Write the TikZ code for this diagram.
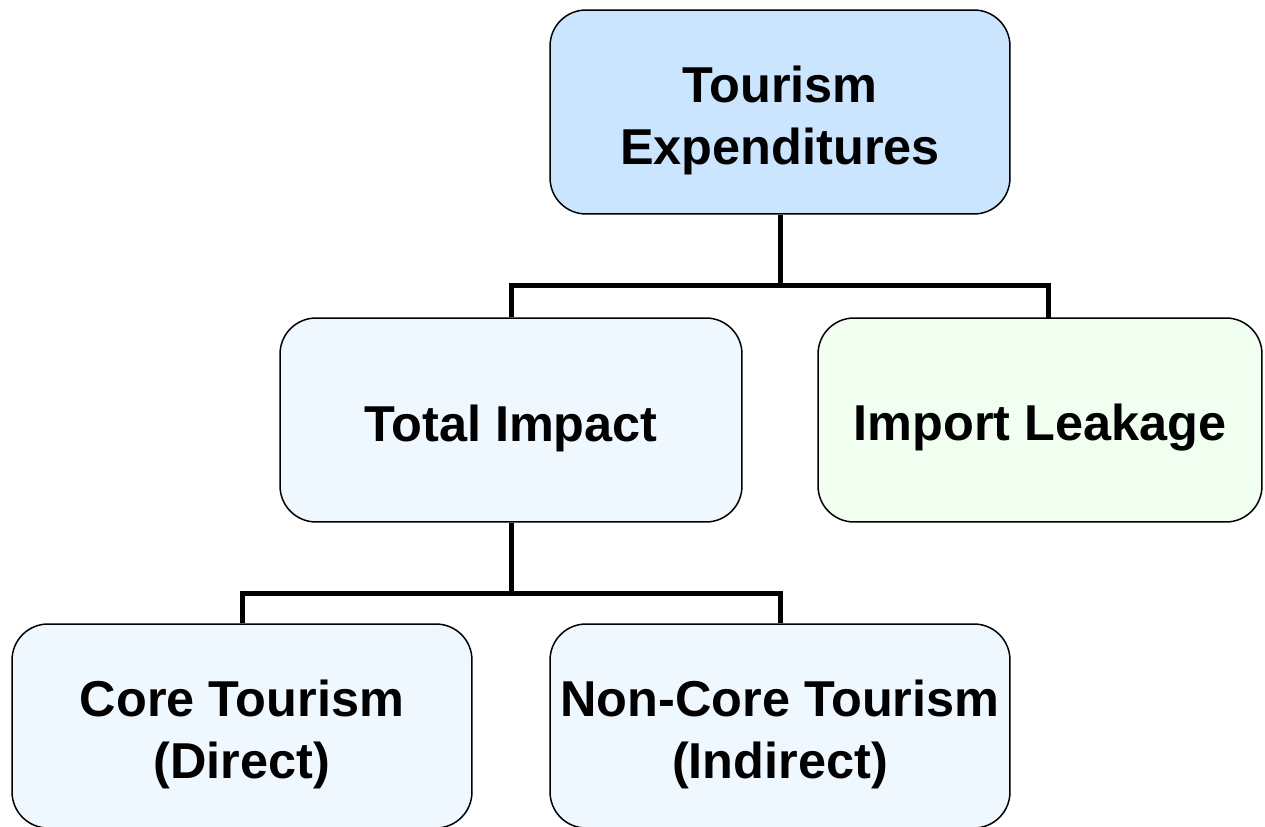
\documentclass[tikz,border=0pt]{standalone}
\usepackage{fontspec}
\setmainfont{Liberation Sans}
\definecolor{topblue}{HTML}{CCE5FF}
\definecolor{paleblue}{HTML}{F0F8FF}
\definecolor{palegreen}{HTML}{F0FFF0}
\begin{document}
\begin{tikzpicture}[x=0.02cm,y=-0.02cm,
  box/.style={draw=black, line width=0.03cm, rounded corners=0.72cm, minimum height=4.08cm, inner sep=0pt},
  lbl/.style={align=center, inner sep=0pt, font=\fontsize{28.7}{35.3}\selectfont\bfseries},
  conn/.style={draw=black, line width=0.1cm}]
\useasboundingbox (0,0) rectangle (1265,827);
\node[box, fill=topblue, minimum width=9.2cm] (top) at (780,112) {};
\node[box, fill=paleblue, minimum width=9.24cm] (total) at (511,420) {};
\node[box, fill=palegreen, minimum width=8.88cm] (import) at (1040,420) {};
\node[box, fill=paleblue, minimum width=9.2cm] (core) at (242,726) {};
\node[box, fill=paleblue, minimum width=9.2cm] (noncore) at (780,726) {};
\node[lbl] (topt) at ([yshift=-0.16cm]top.center) {Tourism\\Expenditures};
\node[lbl] (totalt) at ([yshift=-0.16cm]total.center) {Total Impact};
\node[lbl] (importt) at ([yshift=-0.16cm]import.center) {Import Leakage};
\node[lbl] (coret) at ([yshift=-0.16cm]core.center) {Core Tourism\\(Direct)};
\node[lbl] (noncoret) at ([yshift=-0.16cm]noncore.center) {Non-Core Tourism\\(Indirect)};
\coordinate (j1) at (780,286);
\coordinate (j2) at (511,593);
\coordinate (d1) at (1048,318);
\draw[conn] (top.south) -- (j1);
\draw[conn] (total.north) -- (total.north |- j1) -- (d1 |- j1) -- (d1);
\draw[conn] (total.south) -- (j2);
\draw[conn] (core.north) -- (core.north |- j2) -- (noncore.north |- j2) -- (noncore.north);
\end{tikzpicture}
\end{document}
